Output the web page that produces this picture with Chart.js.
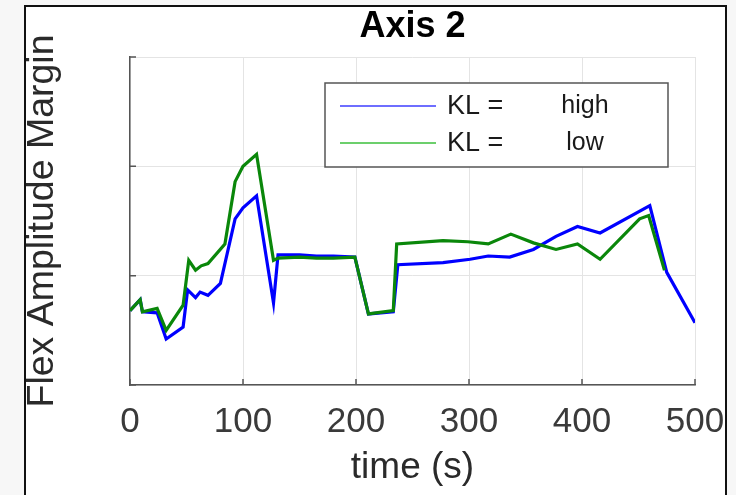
<!DOCTYPE html>
<html>
<head>
<meta charset="utf-8">
<script src="https://cdn.jsdelivr.net/npm/chart.js@4.4.1/dist/chart.umd.min.js"></script>
<style>
html,body{margin:0;padding:0;background:#f7f7f7;}
canvas{display:block;}
</style>
</head>
<body>
<canvas id="c" width="736" height="495"></canvas>
<script>
// ---- data ----
const chartTitle = "Axis 2";
const xTitle = "time (s)";
const yTitle = "Flex Amplitude Margin";
const xTicks = [0, 100, 200, 300, 400, 500];
const yTicks = [0, 1, 2, 3];
const seriesNames = ["high", "low"];
const legendPrefix = "KL =";

const blueTime  = [0, 9, 11, 24, 32, 47, 51, 58, 62, 69, 80, 93, 100, 112, 127, 131, 150, 165, 180, 199, 211, 233, 237, 277, 301, 317, 336, 357, 377, 396, 416, 460, 475, 500];
const blueValue = [0.68, 0.78, 0.67, 0.66, 0.42, 0.53, 0.87, 0.80, 0.85, 0.82, 0.93, 1.52, 1.62, 1.73, 0.75, 1.19, 1.19, 1.18, 1.18, 1.17, 0.65, 0.67, 1.10, 1.12, 1.15, 1.18, 1.17, 1.24, 1.36, 1.45, 1.39, 1.64, 1.03, 0.57];

const greenTime  = [0, 9, 11, 24, 32, 47, 52, 58, 63, 69, 84, 93, 100, 112, 127, 131, 150, 165, 180, 199, 211, 233, 236, 277, 299, 317, 337, 357, 377, 396, 416, 451, 459, 473];
const greenValue = [0.68, 0.78, 0.67, 0.70, 0.50, 0.73, 1.14, 1.05, 1.09, 1.11, 1.29, 1.86, 2.00, 2.11, 1.14, 1.16, 1.17, 1.16, 1.16, 1.17, 0.65, 0.68, 1.29, 1.32, 1.31, 1.29, 1.38, 1.30, 1.24, 1.29, 1.15, 1.52, 1.55, 1.05];

const FONT = "'Liberation Sans', Arial, Helvetica, sans-serif";
const toPts = (xs, ys) => xs.map((x, i) => ({x: x, y: ys[i]}));

const lineColors = ['#0000ff', '#0a870a'];
const legendColors = ['#6e6eff', '#6ccf6c'];

const framePlugin = {
  id: 'frame',
  beforeDraw(chart) {
    const ctx = chart.ctx;
    ctx.save();
    ctx.fillStyle = '#f7f7f7';
    ctx.fillRect(0, 0, chart.width, chart.height);
    ctx.fillStyle = '#ffffff';
    ctx.fillRect(25, 6, 701, 500);
    ctx.strokeStyle = '#111111';
    ctx.lineWidth = 2;
    ctx.strokeRect(25, 6, 701, 500);
    ctx.restore();
  }
};

const inwardTicks = {
  id: 'inwardTicks',
  beforeDatasetsDraw(chart) {
    const ctx = chart.ctx, a = chart.chartArea;
    const xs = chart.scales.x, ys = chart.scales.y;
    ctx.save();
    ctx.strokeStyle = '#555555';
    ctx.lineWidth = 1.5;
    ctx.beginPath();
    xTicks.forEach(t => {
      const px = xs.getPixelForValue(t);
      ctx.moveTo(px, a.bottom);
      ctx.lineTo(px, a.bottom - 6);
    });
    yTicks.forEach(t => {
      const py = ys.getPixelForValue(t);
      ctx.moveTo(a.left, py);
      ctx.lineTo(a.left + 6, py);
    });
    ctx.stroke();
    ctx.restore();
  }
};

const boxLegend = {
  id: 'boxLegend',
  afterDraw(chart) {
    const ctx = chart.ctx;
    const bx = 325, by = 83, bw = 343, bh = 84;
    ctx.save();
    ctx.fillStyle = '#ffffff';
    ctx.fillRect(bx, by, bw, bh);
    ctx.strokeStyle = '#555555';
    ctx.lineWidth = 1.5;
    ctx.strokeRect(bx, by, bw, bh);
    const rows = [106, 143];
    seriesNames.forEach((name, i) => {
      const y = rows[i];
      ctx.strokeStyle = legendColors[i];
      ctx.lineWidth = 2;
      ctx.beginPath();
      ctx.moveTo(340, y);
      ctx.lineTo(436, y);
      ctx.stroke();
      ctx.fillStyle = '#1a1a1a';
      ctx.textBaseline = 'middle';
      ctx.textAlign = 'left';
      ctx.font = '27px ' + FONT;
      ctx.fillText(legendPrefix, 447, y + 1);
      ctx.textAlign = 'center';
      ctx.font = '25px ' + FONT;
      ctx.fillText(name, 585, y);
    });
    ctx.restore();
  }
};

new Chart(document.getElementById('c'), {
  type: 'line',
  data: {
    datasets: [
      {label: legendPrefix + ' ' + seriesNames[0], data: toPts(blueTime, blueValue), borderColor: lineColors[0], backgroundColor: lineColors[0], borderWidth: 3.2, pointRadius: 0, tension: 0, order: 1},
      {label: legendPrefix + ' ' + seriesNames[1], data: toPts(greenTime, greenValue), borderColor: lineColors[1], backgroundColor: lineColors[1], borderWidth: 3.2, pointRadius: 0, tension: 0, order: 0}
    ]
  },
  options: {
    responsive: false,
    animation: false,
    devicePixelRatio: 1,
    layout: {padding: {left: 0, right: 41, top: 0, bottom: 0}},
    plugins: {
      legend: {display: false},
      tooltip: {enabled: false},
      title: {
        display: true,
        fullSize: false,
        text: chartTitle,
        color: '#000000',
        font: {family: FONT, size: 36, weight: 'bold'},
        padding: {top: 5, bottom: 8.8}
      }
    },
    scales: {
      x: {
        type: 'linear',
        min: 0, max: 500,
        afterBuildTicks(s) { s.ticks = xTicks.map(v => ({value: v})); },
        afterFit(s) { s.height = 110; s.paddingRight = 0; s.paddingLeft = 0; },
        ticks: {autoSkip: false, maxRotation: 0, color: '#3a3a3a', font: {family: FONT, size: 35}, padding: 16},
        grid: {color: '#e4e4e4', lineWidth: 1, drawTicks: false},
        border: {color: '#555555', width: 1.5},
        title: {display: true, text: xTitle, color: '#2a2a2a', font: {family: FONT, size: 37}, padding: {top: 0, bottom: 5}}
      },
      y: {
        type: 'linear',
        min: 0, max: 3,
        afterBuildTicks(s) { s.ticks = yTicks.map(v => ({value: v})); },
        afterFit(s) { s.width = 130; },
        ticks: {display: false},
        grid: {color: '#e4e4e4', lineWidth: 1, drawTicks: false},
        border: {color: '#555555', width: 1.5},
        title: {display: true, text: yTitle, color: '#2a2a2a', font: {family: FONT, size: 37.5}, padding: {top: 20, bottom: 0}}
      }
    }
  },
  plugins: [framePlugin, inwardTicks, boxLegend]
});
</script>
</body>
</html>
